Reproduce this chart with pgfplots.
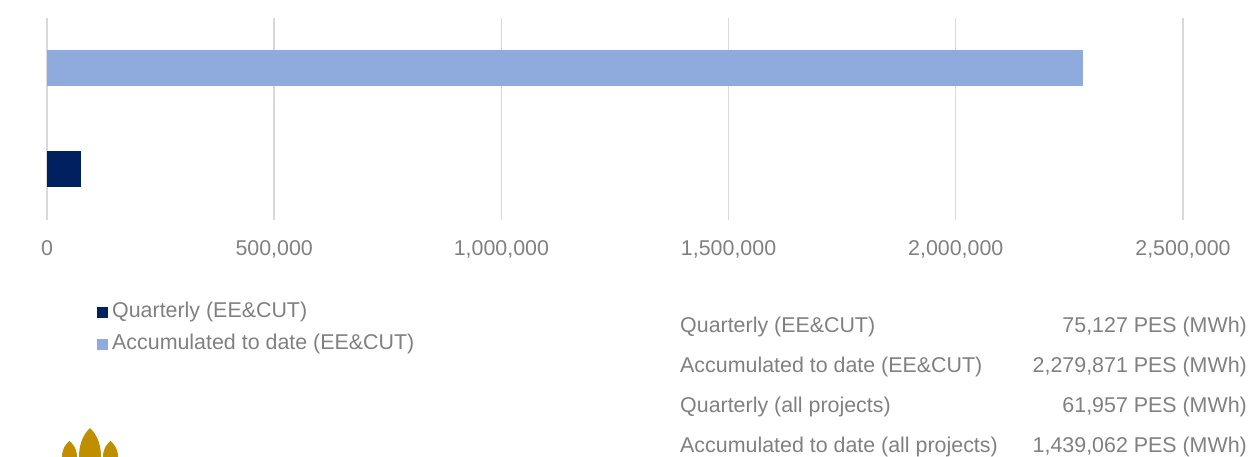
\documentclass[border=0pt]{standalone}
\usepackage{fontspec}
\setmainfont{Liberation Sans}
\usepackage{pgfplots}
\pgfplotsset{compat=1.18}
\definecolor{navy}{HTML}{002060}
\definecolor{lblue}{HTML}{8FAADC}
\definecolor{txtgray}{HTML}{808080}
\definecolor{gridgray}{HTML}{D9D9D9}
\definecolor{gold}{HTML}{BF8F00}
\newcommand{\fs}{\fontsize{21.4}{25}\selectfont}
\begin{document}
\begin{tikzpicture}[x=1pt,y=1pt]
\path[use as bounding box] (0,0) rectangle (1252,457);
\begin{axis}[
  at={(47pt,237pt)}, anchor=south west,
  scale only axis, width=1136pt, height=202pt,
  xmin=0, xmax=2500000, ymin=-0.5, ymax=1.5,
  xtick={0,500000,1000000,1500000,2000000,2500000},
  ytick=\empty,
  scaled x ticks=false,
  xticklabel style={/pgf/number format/fixed, /pgf/number format/1000 sep={,}, /pgf/number format/assume math mode=true,
     font=\fs, text=txtgray, anchor=base, yshift=-36pt},
  axis line style={draw=none},
  major tick length=0pt,
  xmajorgrids, grid style={draw=gridgray, line width=1.4pt},
  xbar, bar width=36pt,
  legend style={at={(axis description cs:0.044,-0.405)}, anchor=north west, draw=none, fill=none,
     font=\fs, text=txtgray, inner sep=0pt, row sep=12pt, column sep=4pt,
     nodes={inner sep=0pt, text height=15pt, text depth=5pt}},
  legend cell align=left,
  legend image code/.code={\fill[#1] (0pt,-5.5pt) rectangle (11pt,5.5pt);},
]
\addplot[fill=navy, draw=none, bar shift=0pt] coordinates {(75127,0)};
\addlegendentry{Quarterly (EE\&CUT)}
\addplot[fill=lblue, draw=none, bar shift=0pt] coordinates {(2279871,1)};
\addlegendentry{Accumulated to date (EE\&CUT)}
\end{axis}
\begin{scope}[every node/.style={font=\fs, text=txtgray, inner sep=0pt}]
\node[anchor=base west] at (680,124) {Quarterly (EE\&CUT)};
\node[anchor=base east] at (1247,124) {75,127 PES (MWh)};
\node[anchor=base west] at (680,84) {Accumulated to date (EE\&CUT)};
\node[anchor=base east] at (1247,84) {2,279,871 PES (MWh)};
\node[anchor=base west] at (680,44) {Quarterly (all projects)};
\node[anchor=base east] at (1247,44) {61,957 PES (MWh)};
\node[anchor=base west] at (680,4) {Accumulated to date (all projects)};
\node[anchor=base east] at (1247,4) {1,439,062 PES (MWh)};
\end{scope}
\fill[gold] (79,0) .. controls (79,17) and (86,25) .. (90,29) .. controls (94,25) and (101,17) .. (101,0) -- cycle;
\fill[gold] (62,0) .. controls (62,9) and (67,14) .. (69.5,16) .. controls (72,14) and (77,9) .. (77,0) -- cycle;
\fill[gold] (103,0) .. controls (103,9) and (108,14) .. (110.5,16) .. controls (113,14) and (118,9) .. (118,0) -- cycle;
\end{tikzpicture}
\end{document}
